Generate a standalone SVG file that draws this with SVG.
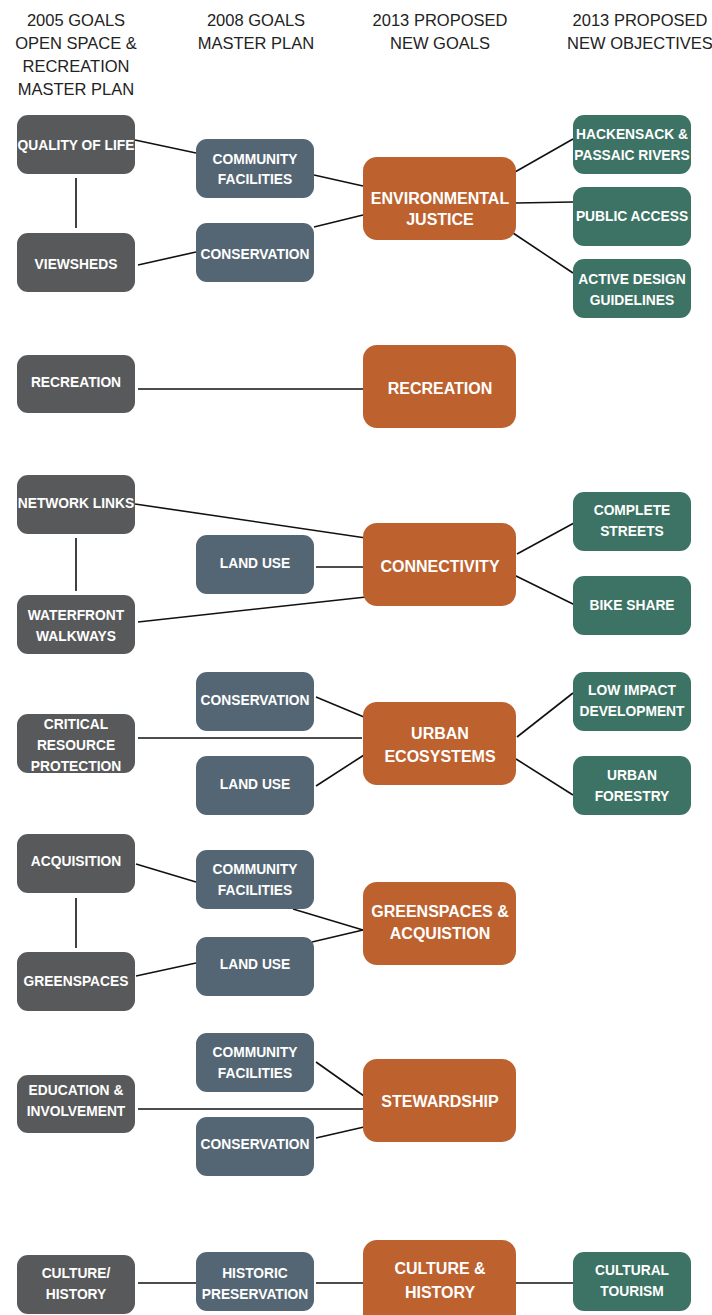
<svg xmlns="http://www.w3.org/2000/svg" width="712" height="1315" viewBox="0 0 712 1315">
<style>
.hd{font-family:"Liberation Sans",Arial,sans-serif;font-size:16.5px;fill:#222;text-anchor:middle}
.t{font-family:"Liberation Sans",Arial,sans-serif;font-weight:bold;font-size:13.8px;fill:#fff;text-anchor:middle;dominant-baseline:central}
.to{font-family:"Liberation Sans",Arial,sans-serif;font-weight:bold;font-size:16px;fill:#fff;text-anchor:middle;dominant-baseline:central}
.g{fill:#58595b}
.b{fill:#546674}
.o{fill:#bd622f}
.e{fill:#3d7364}
#connectors line{stroke:#111;stroke-width:1.6}
</style>
<rect width="712" height="1315" fill="#fff"/>
<g id="headers">
<text class="hd" x="76" y="26">2005 GOALS</text>
<text class="hd" x="76" y="49">OPEN SPACE &amp;</text>
<text class="hd" x="76" y="72">RECREATION</text>
<text class="hd" x="76" y="95">MASTER PLAN</text>
<text class="hd" x="256" y="26">2008 GOALS</text>
<text class="hd" x="256" y="49">MASTER PLAN</text>
<text class="hd" x="440" y="26">2013 PROPOSED</text>
<text class="hd" x="440" y="49">NEW GOALS</text>
<text class="hd" x="640" y="26">2013 PROPOSED</text>
<text class="hd" x="640" y="49">NEW OBJECTIVES</text>
</g>
<g id="connectors">
<line x1="76" y1="178" x2="76" y2="228"/>
<line x1="135" y1="140" x2="196" y2="153"/>
<line x1="314" y1="175" x2="363" y2="186"/>
<line x1="314" y1="227" x2="363" y2="215"/>
<line x1="138" y1="265" x2="196" y2="252"/>
<line x1="515" y1="172" x2="573" y2="139"/>
<line x1="516" y1="203" x2="573" y2="202"/>
<line x1="513" y1="233" x2="573" y2="273"/>
<line x1="138" y1="389" x2="363" y2="389"/>
<line x1="135" y1="504" x2="366" y2="538"/>
<line x1="76" y1="538" x2="76" y2="591"/>
<line x1="316" y1="567" x2="363" y2="567"/>
<line x1="138" y1="622" x2="366" y2="597"/>
<line x1="517" y1="554" x2="574" y2="523"/>
<line x1="514" y1="575" x2="577" y2="606"/>
<line x1="316" y1="697" x2="364" y2="717"/>
<line x1="138" y1="738" x2="362" y2="738"/>
<line x1="316" y1="786" x2="364" y2="755"/>
<line x1="517" y1="737" x2="573" y2="693"/>
<line x1="516" y1="759" x2="573" y2="795"/>
<line x1="136" y1="864" x2="196" y2="882"/>
<line x1="76" y1="898" x2="76" y2="948"/>
<line x1="293" y1="909" x2="363" y2="930"/>
<line x1="312" y1="942" x2="363" y2="930"/>
<line x1="136" y1="976" x2="196" y2="963"/>
<line x1="316" y1="1062" x2="364" y2="1096"/>
<line x1="138" y1="1109" x2="363" y2="1109"/>
<line x1="316" y1="1138" x2="364" y2="1127"/>
<line x1="138" y1="1283" x2="196" y2="1283"/>
<line x1="316" y1="1283" x2="363" y2="1283"/>
<line x1="516" y1="1283" x2="573" y2="1283"/>
</g>
<g id="n-qol"><rect class="g" x="17" y="115" width="118" height="59" rx="11"/><text class="t" x="76" y="145">QUALITY OF LIFE</text></g>
<g id="n-viewsheds"><rect class="g" x="17" y="233" width="118" height="59" rx="11"/><text class="t" x="76" y="264">VIEWSHEDS</text></g>
<g id="n-recreation05"><rect class="g" x="17" y="355" width="118" height="58" rx="11"/><text class="t" x="76" y="382">RECREATION</text></g>
<g id="n-network"><rect class="g" x="17" y="475" width="118" height="59" rx="11"/><text class="t" x="76" y="503">NETWORK LINKS</text></g>
<g id="n-waterfront"><rect class="g" x="17" y="595" width="118" height="59" rx="11"/><text class="t" x="76" y="615">WATERFRONT</text><text class="t" x="76" y="636">WALKWAYS</text></g>
<g id="n-critical"><rect class="g" x="17" y="714" width="118" height="59" rx="11"/><text class="t" x="76" y="724">CRITICAL</text><text class="t" x="76" y="745">RESOURCE</text><text class="t" x="76" y="766">PROTECTION</text></g>
<g id="n-acquisition"><rect class="g" x="17" y="834" width="118" height="59" rx="11"/><text class="t" x="76" y="861">ACQUISITION</text></g>
<g id="n-greenspaces"><rect class="g" x="17" y="952" width="118" height="59" rx="11"/><text class="t" x="76" y="981">GREENSPACES</text></g>
<g id="n-education"><rect class="g" x="17" y="1075" width="118" height="58" rx="11"/><text class="t" x="76" y="1090">EDUCATION &amp;</text><text class="t" x="76" y="1111">INVOLVEMENT</text></g>
<g id="n-culturehistory"><rect class="g" x="17" y="1255" width="118" height="59" rx="11"/><text class="t" x="76" y="1273">CULTURE/</text><text class="t" x="76" y="1294">HISTORY</text></g>
<g id="n-cf1"><rect class="b" x="196" y="139" width="118" height="59" rx="11"/><text class="t" x="255" y="159">COMMUNITY</text><text class="t" x="255" y="179">FACILITIES</text></g>
<g id="n-cons1"><rect class="b" x="196" y="223" width="118" height="59" rx="11"/><text class="t" x="255" y="254">CONSERVATION</text></g>
<g id="n-landuse1"><rect class="b" x="196" y="535" width="118" height="59" rx="11"/><text class="t" x="255" y="563">LAND USE</text></g>
<g id="n-cons2"><rect class="b" x="196" y="672" width="118" height="59" rx="11"/><text class="t" x="255" y="700">CONSERVATION</text></g>
<g id="n-landuse2"><rect class="b" x="196" y="756" width="118" height="59" rx="11"/><text class="t" x="255" y="784">LAND USE</text></g>
<g id="n-cf2"><rect class="b" x="196" y="850" width="118" height="59" rx="11"/><text class="t" x="255" y="869">COMMUNITY</text><text class="t" x="255" y="890">FACILITIES</text></g>
<g id="n-landuse3"><rect class="b" x="196" y="937" width="118" height="59" rx="11"/><text class="t" x="255" y="964">LAND USE</text></g>
<g id="n-cf3"><rect class="b" x="196" y="1033" width="118" height="59" rx="11"/><text class="t" x="255" y="1052">COMMUNITY</text><text class="t" x="255" y="1073">FACILITIES</text></g>
<g id="n-cons3"><rect class="b" x="196" y="1117" width="118" height="59" rx="11"/><text class="t" x="255" y="1144">CONSERVATION</text></g>
<g id="n-historic"><rect class="b" x="196" y="1252" width="118" height="59" rx="11"/><text class="t" x="255" y="1273">HISTORIC</text><text class="t" x="255" y="1294">PRESERVATION</text></g>
<g id="n-ej"><rect class="o" x="363" y="157" width="153" height="83" rx="14"/><text class="to" x="440" y="198">ENVIRONMENTAL</text><text class="to" x="440" y="219">JUSTICE</text></g>
<g id="n-recreation13"><rect class="o" x="363" y="345" width="153" height="83" rx="14"/><text class="to" x="440" y="388">RECREATION</text></g>
<g id="n-connectivity"><rect class="o" x="363" y="523" width="153" height="83" rx="14"/><text class="to" x="440" y="566">CONNECTIVITY</text></g>
<g id="n-urbaneco"><rect class="o" x="363" y="702" width="153" height="83" rx="14"/><text class="to" x="440" y="733">URBAN</text><text class="to" x="440" y="756">ECOSYSTEMS</text></g>
<g id="n-greenacq"><rect class="o" x="363" y="882" width="153" height="83" rx="14"/><text class="to" x="440" y="911">GREENSPACES &amp;</text><text class="to" x="440" y="933">ACQUISTION</text></g>
<g id="n-stewardship"><rect class="o" x="363" y="1059" width="153" height="83" rx="14"/><text class="to" x="440" y="1101">STEWARDSHIP</text></g>
<g id="n-culturehist13"><rect class="o" x="363" y="1240" width="153" height="90" rx="14"/><text class="to" x="440" y="1268">CULTURE &amp;</text><text class="to" x="440" y="1292">HISTORY</text></g>
<g id="n-hackensack"><rect class="e" x="573" y="115" width="118" height="59" rx="11"/><text class="t" x="632" y="134">HACKENSACK &amp;</text><text class="t" x="632" y="155">PASSAIC RIVERS</text></g>
<g id="n-publicaccess"><rect class="e" x="573" y="187" width="118" height="59" rx="11"/><text class="t" x="632" y="216">PUBLIC ACCESS</text></g>
<g id="n-activedesign"><rect class="e" x="573" y="259" width="118" height="59" rx="11"/><text class="t" x="632" y="279">ACTIVE DESIGN</text><text class="t" x="632" y="300">GUIDELINES</text></g>
<g id="n-completestreets"><rect class="e" x="573" y="492" width="118" height="59" rx="11"/><text class="t" x="632" y="510">COMPLETE</text><text class="t" x="632" y="531">STREETS</text></g>
<g id="n-bikeshare"><rect class="e" x="573" y="576" width="118" height="59" rx="11"/><text class="t" x="632" y="605">BIKE SHARE</text></g>
<g id="n-lowimpact"><rect class="e" x="573" y="672" width="118" height="59" rx="11"/><text class="t" x="632" y="690">LOW IMPACT</text><text class="t" x="632" y="711">DEVELOPMENT</text></g>
<g id="n-urbanforestry"><rect class="e" x="573" y="756" width="118" height="59" rx="11"/><text class="t" x="632" y="775">URBAN</text><text class="t" x="632" y="796">FORESTRY</text></g>
<g id="n-culturaltourism"><rect class="e" x="573" y="1252" width="118" height="59" rx="11"/><text class="t" x="632" y="1270">CULTURAL</text><text class="t" x="632" y="1291">TOURISM</text></g>
</svg>
